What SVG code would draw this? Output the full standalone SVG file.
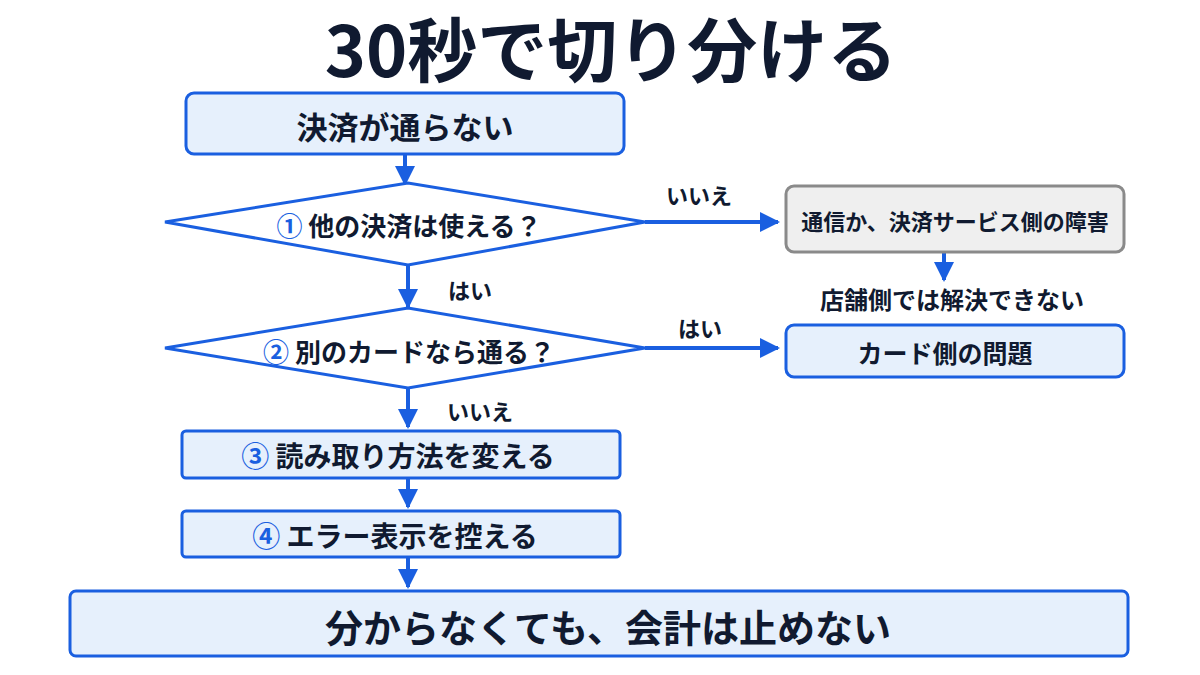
<svg xmlns="http://www.w3.org/2000/svg" width="1200" height="675" viewBox="0 0 1200 675">
<style>
text{font-family:"Noto Sans CJK JP","Noto Sans",sans-serif;font-weight:700;fill:#101a30;text-anchor:middle;dominant-baseline:central}
.b{fill:#e6f0fc;stroke:#1a5fe0;stroke-width:3}
.g{fill:#efefef;stroke:#8a8a8a;stroke-width:3}
.d{fill:#fff;stroke:#1a5fe0;stroke-width:3}
.c{stroke:#1a5fe0;stroke-width:4;fill:none;marker-end:url(#a)}
.n{fill:#1a5fe0}
</style>
<defs><marker id="a" viewBox="0 0 10 10" refX="9" refY="5" markerWidth="5" markerHeight="5" orient="auto"><path d="M0,0L10,5L0,10z" fill="#1a5fe0"/></marker></defs>
<rect width="1200" height="675" fill="#fff"/>
<text x="611" y="46" font-size="70">30秒で切り分ける</text>
<g id="connectors">
<line class="c" x1="405" y1="154" x2="405" y2="184"/>
<line class="c" x1="408" y1="265" x2="408" y2="307"/>
<line class="c" x1="645" y1="222" x2="778" y2="222"/>
<line class="c" x1="944" y1="252" x2="944" y2="280"/>
<line class="c" x1="645" y1="348" x2="778" y2="348"/>
<line class="c" x1="408" y1="388" x2="408" y2="427"/>
<line class="c" x1="408" y1="478" x2="408" y2="507"/>
<line class="c" x1="408" y1="557" x2="408" y2="587"/>
<text x="699" y="194" font-size="22">いいえ</text>
<text x="470" y="289" font-size="22">はい</text>
<text x="700" y="327" font-size="22">はい</text>
<text x="480" y="410" font-size="22">いいえ</text>
</g>
<g id="n1"><rect class="b" x="186" y="93" width="438" height="61" rx="8"/><text x="405" y="125" font-size="31">決済が通らない</text></g>
<g id="d1"><polygon class="d" points="165,222 408,183 645,222 408,265"/><text x="409" y="224" font-size="26"><tspan class="n">①</tspan> 他の決済は使える？</text></g>
<g id="d2"><polygon class="d" points="165,348 408,308 645,348 408,388"/><text x="409" y="350" font-size="26"><tspan class="n">②</tspan> 別のカードなら通る？</text></g>
<g id="n2"><rect class="g" x="786" y="186" width="338" height="66" rx="8"/><text x="955" y="220" font-size="22">通信か、決済サービス側の障害</text></g>
<g id="t1"><text x="952" y="298" font-size="24">店舗側では解決できない</text></g>
<g id="n3"><rect class="b" x="786" y="325" width="338" height="52" rx="8"/><text x="945" y="352" font-size="25">カード側の問題</text></g>
<g id="n4"><rect class="b" x="182" y="431" width="438" height="47" rx="4"/><text x="398" y="455" font-size="28"><tspan class="n">③</tspan> 読み取り方法を変える</text></g>
<g id="n5"><rect class="b" x="182" y="511" width="438" height="46" rx="4"/><text x="395" y="535" font-size="28"><tspan class="n">④</tspan> エラー表示を控える</text></g>
<g id="n6"><rect class="b" x="70" y="591" width="1058" height="65" rx="6"/><text x="608" y="625" font-size="38">分からなくても、会計は止めない</text></g>
</svg>
